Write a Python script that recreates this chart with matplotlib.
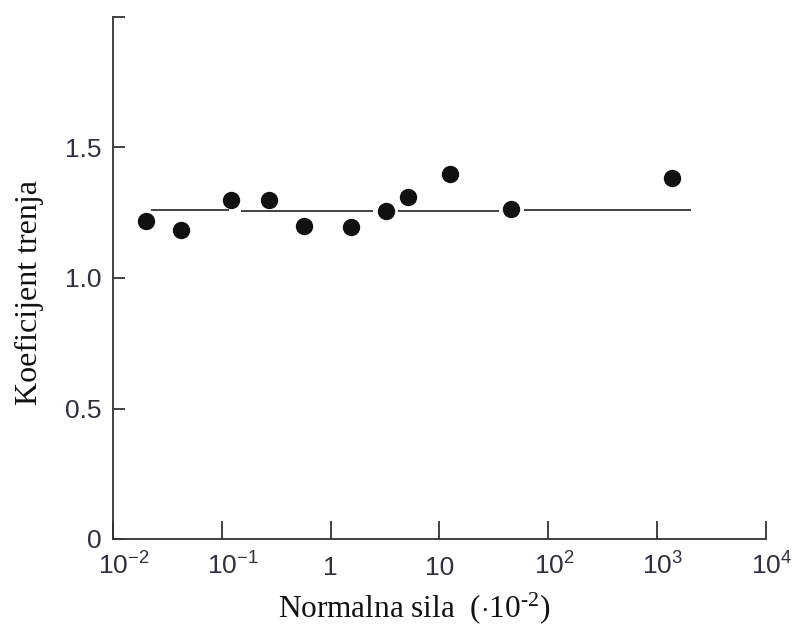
import matplotlib
matplotlib.use("Agg")
import matplotlib.pyplot as plt
import numpy as np

plt.rcParams['mathtext.fontset'] = 'custom'
plt.rcParams['mathtext.rm'] = 'Liberation Serif'
plt.rcParams['mathtext.sf'] = 'Liberation Sans'
plt.rcParams['mathtext.it'] = 'Liberation Serif:italic'
plt.rcParams['mathtext.bf'] = 'Liberation Serif:bold'

# Data
force = [0.0201, 0.0422, 0.122, 0.272, 0.569, 1.54, 3.2, 5.1, 12.5, 45.5, 1370]
coef = [1.22, 1.185, 1.30, 1.30, 1.20, 1.195, 1.255, 1.31, 1.40, 1.265, 1.385]

seg_start = [0.0223, 0.150, 4.17, 60]
seg_end = [0.116, 2.45, 35, 2050]
seg_level = [1.26, 1.255, 1.255, 1.26]

xticks = [1e-2, 1e-1, 1, 10, 1e2, 1e3, 1e4]
xticklabels = [r'$\mathsf{10^{-2}}$', r'$\mathsf{10^{-1}}$', '1', '10',
               r'$\mathsf{10^{2}}$', r'$\mathsf{10^{3}}$', r'$\mathsf{10^{4}}$']
yticks = [0, 0.5, 1.0, 1.5, 2.0]
yticklabels = ['0', '0.5', '1.0', '1.5', '']

fig = plt.figure(figsize=(7.98, 6.30), dpi=100)
ax = fig.add_axes([113/798, (630-539)/630, (766-113)/798, (539-17)/630])

ink = '#222222'
for s, e, lv in zip(seg_start, seg_end, seg_level):
    ax.plot([s, e], [lv, lv], color=ink, lw=1.2, solid_capstyle='butt')
ax.plot(force, coef, 'o', color='#111111', markersize=11.5, linestyle='none')

ax.set_xscale('log')
ax.set_xlim(1e-2, 1e4)
ax.set_ylim(0, 2.0)
ax.set_xticks(xticks)
ax.set_xticklabels([])
ax.minorticks_off()
ax.set_yticks(yticks)
ax.set_yticklabels(yticklabels)

for side in ['top', 'right']:
    ax.spines[side].set_visible(False)
for side in ['left', 'bottom']:
    ax.spines[side].set_color('#333333')
    ax.spines[side].set_linewidth(1.3)

lab_color = '#303040'
tick_fs = 19
ax.tick_params(axis='x', direction='in', length=13, width=1.3, color='#333333')
ax.tick_params(axis='y', direction='in', length=8.5, width=1.3, color='#333333',
               pad=8, labelsize=tick_fs, labelcolor=lab_color)
for lab in ax.get_yticklabels():
    lab.set_family('Liberation Sans')

# x tick labels: the "10" base sits centred on the tick, exponent hangs right
xform = ax.get_xaxis_transform()
half_base = 0.556 * tick_fs  # half width of "10" in points
for xv, lab in zip(xticks, xticklabels):
    if lab.startswith('$'):
        ax.annotate(lab, xy=(xv, 0), xycoords=xform, xytext=(-half_base, -9.5),
                    textcoords='offset points', ha='left', va='top',
                    fontsize=tick_fs, color=lab_color, family='Liberation Sans',
                    annotation_clip=False)
    else:
        ax.annotate(lab, xy=(xv, 0), xycoords=xform, xytext=(0, -12.5),
                    textcoords='offset points', ha='center', va='top',
                    fontsize=tick_fs, color=lab_color, family='Liberation Sans',
                    annotation_clip=False)

ax.set_ylabel('Koeficijent trenja', family='Liberation Serif', fontsize=23, color='#111111')
ax.set_xlabel(r'Normalna sila  $(\cdot 10^{\text{-}2})$', family='Liberation Serif',
              fontsize=22.5, color='#111111')
ax.yaxis.set_label_coords(-0.106, 0.473)
ax.xaxis.set_label_coords(0.461, -0.098)

fig.savefig('out.png', dpi=100)
